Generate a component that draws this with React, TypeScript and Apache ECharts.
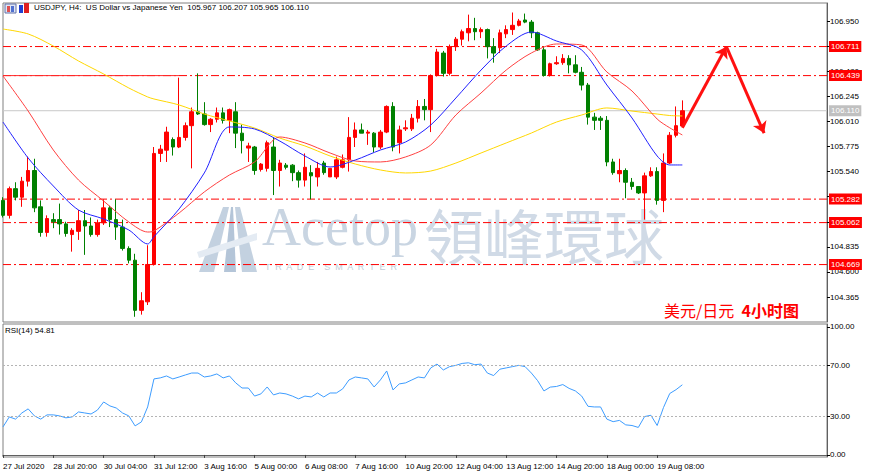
import React, { useEffect, useRef } from "react";
import * as echarts from "echarts";

// ---------- data ----------
// each candle: [open, high, low, close]
const ohlc: number[][] = [
  [105.27, 105.30, 105.11, 105.13], [105.13, 105.40, 105.10, 105.38], [105.38, 105.44, 105.27, 105.30],
  [105.30, 105.49, 105.21, 105.45], [105.45, 105.68, 105.40, 105.55], [105.55, 105.66, 105.16, 105.20],
  [105.21, 105.27, 104.93, 104.97], [104.97, 105.13, 104.93, 105.10], [105.09, 105.15, 105.01, 105.07],
  [105.09, 105.24, 104.95, 105.05], [105.05, 105.07, 104.93, 104.96], [104.95, 105.01, 104.79, 104.99],
  [104.98, 105.18, 104.90, 105.08], [105.08, 105.18, 104.76, 105.03], [105.03, 105.11, 104.93, 104.95],
  [104.95, 105.09, 104.93, 105.06], [105.06, 105.28, 105.04, 105.20], [105.20, 105.22, 105.02, 105.09],
  [105.09, 105.28, 104.90, 105.02], [105.02, 105.09, 104.80, 104.82], [104.82, 104.84, 104.68, 104.71],
  [104.71, 104.77, 104.18, 104.24], [104.24, 104.41, 104.20, 104.33], [104.32, 104.85, 104.29, 104.67],
  [104.67, 105.77, 104.66, 105.71], [105.71, 105.79, 105.63, 105.75], [105.74, 105.96, 105.63, 105.91],
  [105.84, 105.86, 105.69, 105.77], [105.77, 106.42, 105.76, 105.86], [105.86, 106.00, 105.83, 105.97],
  [105.97, 106.14, 105.57, 106.10], [106.10, 106.46, 106.07, 106.08], [106.08, 106.19, 105.97, 105.98],
  [105.98, 106.04, 105.91, 106.03], [106.03, 106.14, 106.00, 106.09], [106.09, 106.14, 105.99, 106.02],
  [106.02, 106.13, 105.90, 106.12], [106.10, 106.19, 105.76, 105.90], [105.90, 105.98, 105.71, 105.83],
  [105.76, 105.81, 105.63, 105.78], [105.77, 105.78, 105.51, 105.55], [105.56, 105.62, 105.54, 105.61],
  [105.57, 105.83, 105.54, 105.81], [105.77, 105.86, 105.32, 105.55], [105.55, 105.65, 105.40, 105.62],
  [105.60, 105.62, 105.56, 105.58], [105.60, 105.61, 105.45, 105.53], [105.53, 105.55, 105.39, 105.46],
  [105.46, 105.71, 105.40, 105.58], [105.53, 105.60, 105.28, 105.50], [105.49, 105.63, 105.40, 105.57],
  [105.62, 105.64, 105.51, 105.53], [105.49, 105.57, 105.49, 105.57], [105.49, 105.68, 105.47, 105.65],
  [105.58, 105.70, 105.57, 105.65], [105.65, 106.05, 105.54, 105.86], [105.86, 106.00, 105.77, 105.93],
  [105.93, 105.99, 105.90, 105.90], [105.90, 105.93, 105.79, 105.91], [105.90, 105.91, 105.72, 105.77],
  [105.77, 105.93, 105.75, 105.91], [105.91, 106.16, 105.90, 106.15], [106.15, 106.19, 105.73, 105.77],
  [105.81, 105.97, 105.71, 105.93], [105.94, 106.02, 105.92, 105.95], [105.94, 106.08, 105.92, 106.04],
  [106.04, 106.21, 106.00, 106.15], [106.15, 106.22, 106.02, 106.12], [106.12, 106.45, 105.91, 106.44],
  [106.44, 106.69, 106.43, 106.66], [106.65, 106.67, 106.43, 106.46], [106.46, 106.73, 106.44, 106.71],
  [106.71, 106.80, 106.67, 106.78], [106.78, 106.87, 106.72, 106.85], [106.84, 107.01, 106.76, 106.88],
  [106.88, 106.98, 106.77, 106.85], [106.85, 106.89, 106.79, 106.87], [106.87, 106.88, 106.60, 106.71],
  [106.71, 106.79, 106.56, 106.65], [106.70, 106.87, 106.65, 106.84], [106.83, 106.91, 106.79, 106.87],
  [106.87, 107.03, 106.82, 106.91], [106.91, 106.97, 106.90, 106.95], [106.96, 107.02, 106.93, 106.94],
  [106.94, 106.96, 106.79, 106.84], [106.84, 106.85, 106.67, 106.68], [106.68, 106.71, 106.43, 106.44],
  [106.44, 106.56, 106.43, 106.55], [106.55, 106.62, 106.54, 106.56], [106.56, 106.64, 106.54, 106.60],
  [106.60, 106.63, 106.46, 106.54], [106.54, 106.63, 106.46, 106.47], [106.47, 106.52, 106.30, 106.35],
  [106.35, 106.37, 105.98, 106.05], [106.05, 106.09, 105.93, 106.02], [106.04, 106.06, 105.93, 106.02],
  [106.02, 106.06, 105.59, 105.63], [105.63, 105.66, 105.51, 105.53], [105.52, 105.66, 105.44, 105.55],
  [105.55, 105.57, 105.29, 105.44], [105.44, 105.48, 105.37, 105.40], [105.40, 105.40, 105.33, 105.34],
  [105.34, 105.53, 105.09, 105.50], [105.50, 105.58, 105.49, 105.54], [105.54, 105.58, 105.23, 105.27],
  [105.27, 105.71, 105.16, 105.62], [105.62, 105.91, 105.61, 105.88], [105.88, 106.15, 105.86, 105.97],
  [105.967, 106.207, 105.965, 106.110],
];

const rsi14: number[] = [
  21.9, 29.7, 28, 32.8, 36, 30.5, 28, 31.3, 31.3, 30.5, 29, 29.7, 33.6, 32.8, 32, 35, 41.4, 38.3, 36.7, 32.8,
  30.5, 22.7, 25.8, 37.5, 59.4, 60.2, 61.7, 59.4, 60.9, 62.5, 64, 64, 60.9, 61.7, 63.3, 60.2, 61.7, 56.3, 52.3, 52.3,
  46, 47.7, 53.1, 46.9, 48.4, 47.7, 46, 43.8, 46, 45.3, 48.4, 45.3, 48.4, 48.4, 51.6, 58.6, 60.9, 60.2, 59.4, 53.1,
  58.6, 65.6, 50.8, 55.5, 56.3, 58.6, 60.9, 60.2, 68, 71, 66.4, 69, 70, 71.5, 72, 70.5, 71, 64, 62, 67,
  68, 69, 70, 69, 64, 58, 50, 53, 53.5, 55, 52, 50, 46, 38, 37.5, 37.5, 28, 26, 27, 23.5,
  23, 21.5, 30, 31, 23, 37, 48, 51, 54.81,
];

// moving averages, sampled at bar indices
const maIdx = [0, 4, 8, 12, 16, 20, 23, 24, 28, 32, 36, 40, 44, 48, 52, 56, 60, 64, 68, 72, 76, 80, 84, 88, 92, 96, 100, 104, 106, 108];
const maBlue = [106.004, 105.667, 105.405, 105.18, 105.096, 104.993, 104.862, 104.93, 105.19, 105.527, 105.958, 105.939, 105.826, 105.686, 105.583, 105.648, 105.742, 105.817, 105.976, 106.229, 106.491, 106.716, 106.847, 106.763, 106.679, 106.351, 106.042, 105.686, 105.602, 105.602];
const maRed = [106.435, 106.107, 105.742, 105.461, 105.264, 105.068, 104.974, 104.983, 105.152, 105.349, 105.508, 105.63, 105.864, 105.808, 105.714, 105.639, 105.63, 105.677, 105.789, 106.07, 106.276, 106.491, 106.651, 106.735, 106.726, 106.473, 106.295, 106.032, 105.95, 105.883];
const maYellow = [106.875, 106.829, 106.716, 106.576, 106.454, 106.323, 106.239, 106.22, 106.164, 106.079, 106.014, 105.948, 105.854, 105.78, 105.686, 105.611, 105.555, 105.527, 105.545, 105.62, 105.714, 105.808, 105.901, 106.004, 106.07, 106.136, 106.107, 106.079, 106.065, 106.061];

const levelLines = [106.711, 106.439, 105.282, 105.062, 104.669];
const lastPrice = 106.11;
// previous-high segment: [from bar, to bar, price]
const highSegment = [0, 28, 106.439];
const priceTicks = [104.365, 104.6, 104.835, 105.07, 105.305, 105.54, 105.775, 106.01, 106.245, 106.48, 106.715, 106.95];
// labels that stay visible (the others sit behind the level boxes)
const priceLabels = [104.365, 104.6, 104.835, 105.54, 105.775, 106.01, 106.245, 106.48, 106.95];
const rsiTicks = [0, 30, 70, 100];
const rsiLevels = [30, 70];
const xTickIdx = [0, 8, 16, 24, 32, 40, 48, 56, 64, 72, 80, 88, 96, 104];
const xTickLabels = ["27 Jul 2020", "28 Jul 20:00", "30 Jul 04:00", "31 Jul 12:00", "3 Aug 16:00", "5 Aug 00:00", "6 Aug 08:00", "7 Aug 16:00", "10 Aug 20:00", "12 Aug 04:00", "13 Aug 12:00", "14 Aug 20:00", "18 Aug 00:00", "19 Aug 08:00"];
// forecast arrow: [bar index, price]
const arrowPath = [[108, 105.95], [115, 106.71], [121, 105.9]];
const SLOTS = 132;

const FONT = "Liberation Sans, Arial, sans-serif";

export default function App() {
  const ref = useRef<HTMLDivElement>(null);

  useEffect(() => {
    if (!ref.current) return;
    const chart = echarts.init(ref.current, undefined, { renderer: "svg" });
    const cats = Array.from({ length: SLOTS }, (_, i) => String(i));
    const tickSet = new Set(xTickIdx);
    const candleData = ohlc.map(([o, h, l, c]) => [o, c, l, h]);
    const maLine = (vals: number[], color: string) => ({
      type: "line",
      xAxisIndex: 0,
      yAxisIndex: 0,
      data: maIdx.map((i, k) => [i, vals[k]]),
      showSymbol: false,
      smooth: 0.3,
      color,
      lineStyle: { color, width: 1 },
      silent: true,
      z: 3,
    });

    // horizontal level as a plain line series across the whole axis, with a price box at its end
    const level = (v: number, color: string, type: any, boxBg: string) => ({
      type: "line",
      xAxisIndex: 0,
      yAxisIndex: 0,
      data: [[0, v], [SLOTS - 1, v]],
      showSymbol: false,
      silent: true,
      color,
      lineStyle: { color, width: 1, type },
      endLabel: {
        show: true,
        formatter: v.toFixed(3),
        color: "#ffffff",
        backgroundColor: boxBg,
        padding: [2, 2, 1, 2],
        distance: 2,
        fontSize: 8,
        fontFamily: FONT,
      },
      z: 1,
    });

    const arrowItems: any[] = [
      [
        { coord: arrowPath[0], symbol: "none" },
        { coord: arrowPath[1], symbol: "arrow" },
      ],
      [
        { coord: arrowPath[1], symbol: "none" },
        { coord: arrowPath[2], symbol: "arrow" },
      ],
    ];

    const option: any = {
      animation: false,
      backgroundColor: "#ffffff",
      textStyle: { fontFamily: FONT },
      grid: [
        { left: 3, top: 3, width: 824, height: 319, show: true, borderColor: "#808080", borderWidth: 1 },
        { left: 3, top: 324, width: 824, height: 133, show: true, borderColor: "#808080", borderWidth: 1 },
      ],
      xAxis: [
        {
          gridIndex: 0,
          type: "category",
          data: cats,
          boundaryGap: false,
          axisLine: { show: false },
          axisTick: { show: false },
          axisLabel: { show: false },
          splitLine: { show: false },
        },
        {
          gridIndex: 1,
          type: "category",
          data: cats,
          boundaryGap: false,
          axisLine: { show: true, lineStyle: { color: "#606060", width: 1 } },
          axisTick: {
            show: true,
            length: 3,
            interval: (idx: number) => tickSet.has(idx),
            lineStyle: { color: "#404040" },
          },
          axisLabel: {
            show: true,
            interval: (idx: number) => tickSet.has(idx),
            formatter: (_v: string, idx: number) => {
              const k = xTickIdx.indexOf(idx);
              return k >= 0 ? xTickLabels[k] : "";
            },
            align: "left",
            margin: 5,
            fontSize: 8,
            color: "#000000",
            fontFamily: FONT,
          },
          splitLine: { show: false },
        },
      ],
      yAxis: [
        {
          gridIndex: 0,
          type: "value",
          position: "right",
          min: 104.131,
          max: 107.119,
          splitLine: { show: false },
          axisLine: { show: true, lineStyle: { color: "#606060", width: 1 } },
          axisTick: { show: true, length: 3, customValues: priceTicks, lineStyle: { color: "#000" } },
          axisLabel: {
            show: true,
            customValues: priceLabels,
            formatter: (v: number) => v.toFixed(3),
            fontSize: 8,
            color: "#000000",
            margin: 3,
            fontFamily: FONT,
          },
        },
        {
          gridIndex: 1,
          type: "value",
          position: "right",
          min: -1.6,
          max: 102.3,
          splitLine: { show: false },
          axisLine: { show: true, lineStyle: { color: "#606060", width: 1 } },
          axisTick: { show: true, length: 3, customValues: rsiTicks, lineStyle: { color: "#000" } },
          axisLabel: {
            show: true,
            customValues: rsiTicks,
            formatter: (v: number) => v.toFixed(2),
            fontSize: 8,
            color: "#000000",
            margin: 3,
            fontFamily: FONT,
          },
        },
      ],
      series: [
        level(lastPrice, "#c8c8c8", "solid", "#c0c0c0"),
        ...levelLines.map((v) => level(v, "#ff0000", [8, 3, 2, 3], "#ff0000")),
        {
          type: "line",
          xAxisIndex: 0,
          yAxisIndex: 0,
          data: [[highSegment[0], highSegment[2]], [highSegment[1], highSegment[2]]],
          showSymbol: false,
          silent: true,
          color: "#ff2a2a",
          lineStyle: { color: "#ff2a2a", width: 1 },
          z: 1,
        },
        {
          type: "candlestick",
          name: "USDJPY",
          xAxisIndex: 0,
          yAxisIndex: 0,
          data: candleData,
          barWidth: 4,
          clip: true,
          itemStyle: {
            color: "#ff0000",
            color0: "#008000",
            borderColor: "#ff0000",
            borderColor0: "#008000",
            borderWidth: 1,
          },
          z: 2,
        },
        maLine(maYellow, "#ffd700"),
        maLine(maRed, "#ff4040"),
        maLine(maBlue, "#2020ff"),
        {
          type: "line",
          xAxisIndex: 0,
          yAxisIndex: 0,
          data: [],
          color: "#ff1010",
          markLine: {
            silent: true,
            symbol: ["none", "arrow"],
            symbolSize: 11,
            lineStyle: { color: "#ff1010", width: 3, type: "solid", opacity: 1 },
            label: { show: false },
            data: arrowItems,
          },
          z: 5,
        },
        {
          type: "line",
          name: "RSI(14)",
          xAxisIndex: 1,
          yAxisIndex: 1,
          data: rsi14,
          showSymbol: false,
          color: "#3d9cff",
          lineStyle: { color: "#3d9cff", width: 1 },
          markLine: {
            silent: true,
            symbol: ["none", "none"],
            label: { show: false },
            lineStyle: { color: "#b4b4b4", width: 1, type: [2, 2], opacity: 1 },
            data: rsiLevels.map((v) => ({ yAxis: v })),
          },
        },
      ],
      graphic: [
        // watermark logo
        { type: "polygon", z: -1, silent: true, shape: { points: [[223, 207], [229, 207], [214, 272], [199, 272]] }, style: { fill: "#c3d1e0" } },
        { type: "polygon", z: -1, silent: true, shape: { points: [[231, 207], [233, 207], [236, 272], [224, 272]] }, style: { fill: "#b4c5d8" } },
        { type: "polygon", z: -1, silent: true, shape: { points: [[235, 207], [240, 207], [257, 272], [242, 272]] }, style: { fill: "#c3d1e0" } },
        { type: "polygon", z: -1, silent: true, shape: { points: [[197, 252], [257, 233], [257, 240], [199, 258]] }, style: { fill: "#e4ebf3" } },
        { type: "text", z: -1, silent: true, left: 262, top: 200, style: { text: "Acetop", font: "54px 'Liberation Serif', serif", fill: "#c9d5e2" } },
        { type: "text", z: -1, silent: true, left: 424, top: 203, style: { text: "領峰環球", font: "60px 'Noto Sans CJK TC', sans-serif", fill: "#d0dae6" } },
        { type: "text", z: -1, silent: true, left: 265, top: 262, style: { text: "T  R  A  D  E    S  M  A  R  T  E  R", font: "9px 'Liberation Sans', sans-serif", fill: "#c2cdd8" } },
        // header icons
        { type: "rect", z: 10, silent: true, shape: { x: 5, y: 4, width: 11, height: 9 }, style: { fill: "#dfe6f5", stroke: "#6070a8", lineWidth: 1 } },
        { type: "rect", z: 10, silent: true, shape: { x: 7, y: 6, width: 3, height: 6 }, style: { fill: "#e05050" } },
        { type: "rect", z: 10, silent: true, shape: { x: 11, y: 6, width: 3, height: 6 }, style: { fill: "#5070d0" } },
        { type: "rect", z: 10, silent: true, shape: { x: 19, y: 5, width: 4, height: 8 }, style: { fill: "#2040d0" } },
        { type: "rect", z: 10, silent: true, shape: { x: 24, y: 3, width: 5, height: 10 }, style: { fill: "#e02020" } },
        {
          type: "text", z: 10, silent: true, left: 34, top: 3,
          style: { text: "USDJPY, H4:  US Dollar vs Japanese Yen  105.967 106.207 105.965 106.110", font: "8px 'Liberation Sans', sans-serif", fill: "#000000" },
        },
        {
          type: "text", z: 10, silent: true, left: 5, top: 326,
          style: { text: "RSI(14) 54.81", font: "8px 'Liberation Sans', sans-serif", fill: "#000000" },
        },
        {
          type: "text", z: 10, silent: true, left: 664, top: 302,
          style: {
            text: "{a|美元/日元}{b|  4小时图}",
            rich: {
              a: { fontSize: 16, fontFamily: "Noto Sans CJK SC", fill: "#ff0000", color: "#ff0000" },
              b: { fontSize: 16, fontFamily: "Noto Sans CJK SC", fontWeight: "bold", fill: "#ff0000", color: "#ff0000" },
            },
            fill: "#ff0000",
          },
        },
      ],
    };

    chart.setOption(option);
    return () => chart.dispose();
  }, []);

  return (
    <div
      ref={ref}
      style={{ position: "fixed", left: 0, top: 0, width: 870, height: 475, background: "#fff" }}
    />
  );
}
